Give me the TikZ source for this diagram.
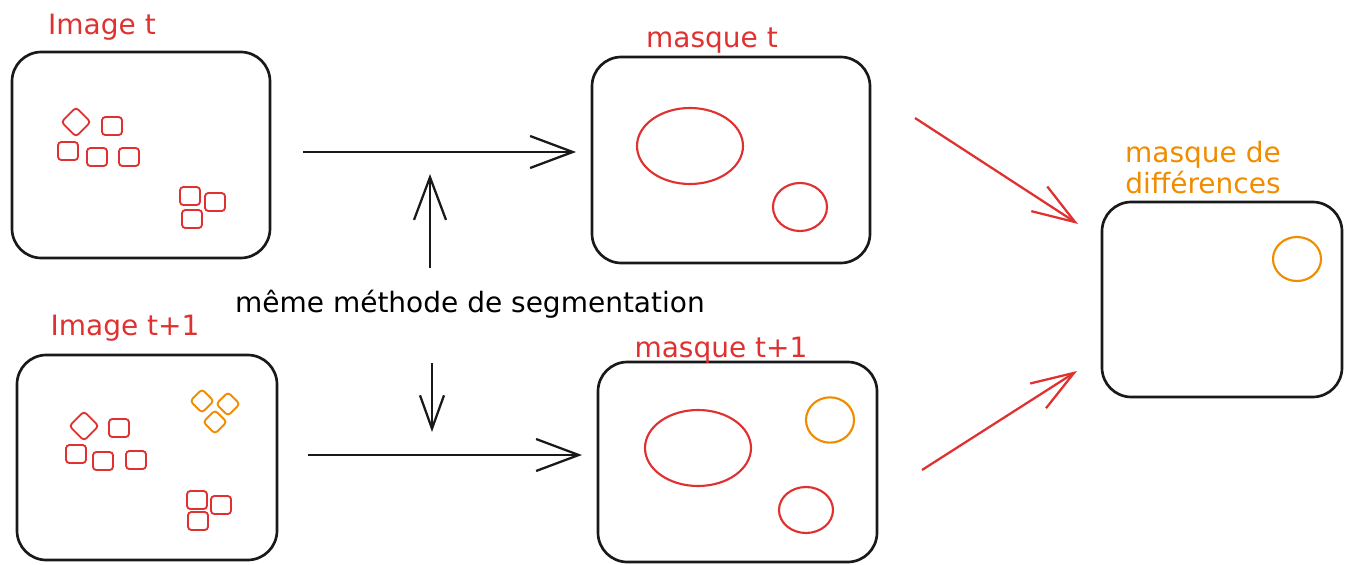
\documentclass[tikz,border=0pt]{standalone}
\usepackage{fontspec}
\setmainfont{DejaVu Sans}
\usetikzlibrary{arrows.meta}
\definecolor{sred}{HTML}{E03131}
\definecolor{sorange}{HTML}{F08C00}
\begin{document}
\begin{tikzpicture}[x=0.75pt,y=-0.75pt,
  frame/.style={draw=black!90, line width=2pt, rounded corners=22pt, inner sep=0pt},
  sq/.style={draw=sred, line width=1.4pt, rounded corners=2.5pt, minimum width=15pt, minimum height=13.5pt, inner sep=0pt},
  dm/.style={draw=#1, line width=1.4pt, rounded corners=2.5pt, minimum size=15.5pt, inner sep=0pt, rotate=45},
  lbl/.style={font=\fontsize{21}{23}\selectfont, text=#1, anchor=base, inner sep=0pt},
  arr/.style={draw=black!90, line width=1.7pt, -{Straight Barb[length=32pt,width=24pt]}},
  arrs/.style={draw=black!90, line width=1.7pt, -{Straight Barb[length=25pt,width=18pt]}},
  rarr/.style={draw=sred, line width=1.7pt, -{Straight Barb[length=32pt,width=22pt]}},
  blob/.style={draw=#1, line width=1.6pt}
]
\useasboundingbox (0,0) rectangle (1345,564);

% frames
\node[frame, minimum width=193.5pt, minimum height=154.5pt] (b1) at (141,155) {};
\node[frame, minimum width=195pt, minimum height=153.75pt] (b2) at (147,457.5) {};
\node[frame, minimum width=208.5pt, minimum height=154.5pt] (b3) at (731,160) {};
\node[frame, minimum width=209.25pt, minimum height=150pt] (b4) at (737.5,462) {};
\node[frame, minimum width=180pt, minimum height=146.25pt] (b5) at (1222,299.5) {};

% labels
\node[lbl=sred] (l1) at (102,34) {Image t};
\node[lbl=sred] (l2) at (125,335) {Image t+1};
\node[lbl=sred] (l3) at (712,47) {masque t};
\node[lbl=sred] (l4) at (721,357) {masque t+1};
\node[lbl=sorange] (l5a) at (1203,162) {masque de};
\node[lbl=sorange] (l5b) at (1203,193) {différences};
\node[lbl=black] (lm) at (470,312) {même méthode de segmentation};

% shapes in image t
\node[dm=sred] (d1) at (76,122) {};
\node[sq] (s1) at (112,126) {};
\node[sq] (s2) at (68,151) {};
\node[sq] (s3) at (97,157) {};
\node[sq] (s4) at (129,157) {};
\node[sq] (s5) at (190,196) {};
\node[sq] (s6) at (215,202) {};
\node[sq] (s7) at (192,219) {};

% shapes in image t+1
\node[dm=sred] (d2) at (84,426) {};
\node[sq] (t1) at (119,428) {};
\node[sq] (t2) at (76,454) {};
\node[sq] (t3) at (103,461) {};
\node[sq] (t4) at (136,460) {};
\node[dm=sorange, minimum size=12.5pt] (o1) at (202,401) {};
\node[dm=sorange, minimum size=12.5pt] (o2) at (228,404) {};
\node[dm=sorange, minimum size=12.5pt] (o3) at (215,422) {};
\node[sq] (t5) at (197,500) {};
\node[sq] (t6) at (221,505) {};
\node[sq] (t7) at (198,521) {};

% masks
\draw[blob=sred] (690,146) ellipse [x radius=39.75pt, y radius=28.5pt];
\draw[blob=sred] (800,207) ellipse [x radius=20.25pt, y radius=18pt];
\draw[blob=sred] (698,448) ellipse [x radius=39.75pt, y radius=28.5pt];
\draw[blob=sorange] (830,420) ellipse [x radius=18pt, y radius=17pt];
\draw[blob=sred] (806,510) ellipse [x radius=20.25pt, y radius=17.25pt];
\draw[blob=sorange] (1297,259) ellipse [x radius=18pt, y radius=16.5pt];

% arrow end points
\coordinate (h1s) at (303,152);
\coordinate (h1e) at (576,152);
\coordinate (h2s) at (308,455);
\coordinate (h2e) at (582,455);
\coordinate (vus) at (430,268);
\coordinate (vue) at (430,174);
\coordinate (vds) at (432,363);
\coordinate (vde) at (432,432);
\coordinate (r1s) at (915,118);
\coordinate (r1e) at (1078,224);
\coordinate (r2s) at (922,470);
\coordinate (r2e) at (1077,371);

\draw[arr] (h1s) -- (h1e);
\draw[arr] (h2s) -- (h2e);
\draw[arr] (vus) -- (vue);
\draw[arrs] (vds) -- (vde);
\draw[rarr] (r1s) -- (r1e);
\draw[rarr] (r2s) -- (r2e);
\end{tikzpicture}
\end{document}
